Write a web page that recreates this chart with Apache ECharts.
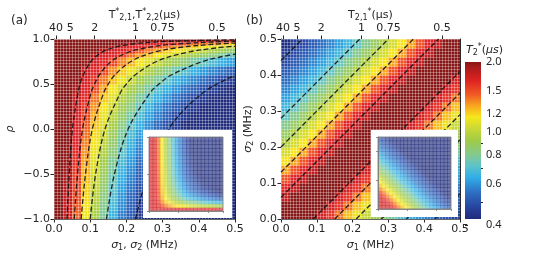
<!DOCTYPE html>
<html>
<head>
<meta charset="utf-8">
<script src="https://cdn.jsdelivr.net/npm/echarts@6/dist/echarts.min.js"></script>
<style>html,body{margin:0;padding:0;background:#fff}#chart{width:540px;height:259px}</style>
</head>
<body>
<div id="chart"></div>
<script>
// ---- data ----
// cell edges: sigma (MHz) and correlation rho
const sigmaEdges = [0, 0.025, 0.05, 0.075, 0.1, 0.125, 0.15, 0.175, 0.2, 0.225, 0.25, 0.275, 0.3, 0.325, 0.35, 0.375, 0.4, 0.425, 0.45, 0.475, 0.5];
const rhoEdges = [-1, -0.9, -0.8, -0.7, -0.6, -0.5, -0.4, -0.3, -0.2, -0.1, 0, 0.1, 0.2, 0.3, 0.4, 0.5, 0.6, 0.7, 0.8, 0.85, 0.9, 0.93, 0.96, 0.98, 1];
const insetRhoEdges = [-1, -0.9, -0.8, -0.7, -0.6, -0.5, -0.4, -0.3, -0.2, -0.1, 0, 0.1, 0.2, 0.3, 0.4, 0.5, 0.6, 0.7, 0.8, 0.9, 1];

// T2* (us) for panel (a), rows from rho = -1 (bottom) upwards
const t2A = [
  [4, 2.86, 1.72, 1.23, 0.96, 0.78, 0.66, 0.57, 0.51, 0.45, 0.41, 0.37, 0.34, 0.32, 0.30, 0.28, 0.26, 0.25, 0.23, 0.22],
  [4, 2.94, 1.76, 1.26, 0.98, 0.80, 0.68, 0.59, 0.52, 0.46, 0.42, 0.38, 0.35, 0.33, 0.30, 0.28, 0.27, 0.25, 0.24, 0.23],
  [4, 3.02, 1.81, 1.30, 1.01, 0.82, 0.70, 0.60, 0.53, 0.48, 0.43, 0.39, 0.36, 0.34, 0.31, 0.29, 0.27, 0.26, 0.25, 0.23],
  [4, 3.11, 1.87, 1.33, 1.04, 0.85, 0.72, 0.62, 0.55, 0.49, 0.44, 0.41, 0.37, 0.35, 0.32, 0.30, 0.28, 0.27, 0.25, 0.24],
  [4, 3.21, 1.93, 1.38, 1.07, 0.88, 0.74, 0.64, 0.57, 0.51, 0.46, 0.42, 0.39, 0.36, 0.33, 0.31, 0.29, 0.28, 0.26, 0.25],
  [4, 3.32, 1.99, 1.42, 1.11, 0.91, 0.77, 0.66, 0.59, 0.52, 0.47, 0.43, 0.40, 0.37, 0.34, 0.32, 0.30, 0.28, 0.27, 0.26],
  [4, 3.44, 2.07, 1.48, 1.15, 0.94, 0.79, 0.69, 0.61, 0.54, 0.49, 0.45, 0.41, 0.38, 0.36, 0.33, 0.31, 0.30, 0.28, 0.26],
  [4, 3.58, 2.15, 1.53, 1.19, 0.98, 0.83, 0.72, 0.63, 0.57, 0.51, 0.47, 0.43, 0.40, 0.37, 0.35, 0.33, 0.31, 0.29, 0.28],
  [4, 3.73, 2.24, 1.60, 1.24, 1.02, 0.86, 0.75, 0.66, 0.59, 0.53, 0.49, 0.45, 0.41, 0.39, 0.36, 0.34, 0.32, 0.30, 0.29],
  [4, 3.90, 2.34, 1.67, 1.30, 1.06, 0.90, 0.78, 0.69, 0.62, 0.56, 0.51, 0.47, 0.43, 0.40, 0.38, 0.35, 0.33, 0.32, 0.30],
  [4, 4, 2.46, 1.76, 1.37, 1.12, 0.95, 0.82, 0.72, 0.65, 0.59, 0.53, 0.49, 0.46, 0.42, 0.40, 0.37, 0.35, 0.33, 0.32],
  [4, 4, 2.60, 1.86, 1.45, 1.18, 1.00, 0.87, 0.77, 0.69, 0.62, 0.57, 0.52, 0.48, 0.45, 0.42, 0.39, 0.37, 0.35, 0.33],
  [4, 4, 2.77, 1.98, 1.54, 1.26, 1.07, 0.92, 0.82, 0.73, 0.66, 0.60, 0.55, 0.51, 0.48, 0.45, 0.42, 0.40, 0.37, 0.36],
  [4, 4, 2.98, 2.13, 1.65, 1.35, 1.15, 0.99, 0.88, 0.78, 0.71, 0.65, 0.60, 0.55, 0.51, 0.48, 0.45, 0.43, 0.40, 0.38],
  [4, 4, 3.24, 2.31, 1.80, 1.47, 1.24, 1.08, 0.95, 0.85, 0.77, 0.70, 0.65, 0.60, 0.56, 0.52, 0.49, 0.46, 0.44, 0.41],
  [4, 4, 3.58, 2.56, 1.99, 1.63, 1.38, 1.19, 1.05, 0.94, 0.85, 0.78, 0.72, 0.66, 0.62, 0.58, 0.54, 0.51, 0.48, 0.46],
  [4, 4, 4, 2.90, 2.25, 1.84, 1.56, 1.35, 1.19, 1.07, 0.97, 0.88, 0.81, 0.75, 0.70, 0.65, 0.61, 0.58, 0.55, 0.52],
  [4, 4, 4, 3.43, 2.67, 2.18, 1.85, 1.60, 1.41, 1.26, 1.14, 1.04, 0.96, 0.89, 0.83, 0.77, 0.73, 0.69, 0.65, 0.62],
  [4, 4, 4, 4, 3.19, 2.61, 2.21, 1.91, 1.69, 1.51, 1.37, 1.25, 1.15, 1.06, 0.99, 0.93, 0.87, 0.82, 0.78, 0.74],
  [4, 4, 4, 4, 3.77, 3.09, 2.61, 2.26, 2.00, 1.79, 1.62, 1.48, 1.36, 1.26, 1.17, 1.10, 1.03, 0.97, 0.92, 0.87],
  [4, 4, 4, 4, 4, 3.74, 3.17, 2.74, 2.42, 2.17, 1.96, 1.79, 1.65, 1.52, 1.42, 1.33, 1.25, 1.18, 1.11, 1.06],
  [4, 4, 4, 4, 4, 4, 3.94, 3.41, 3.01, 2.69, 2.44, 2.22, 2.05, 1.90, 1.76, 1.65, 1.55, 1.46, 1.38, 1.31],
  [4, 4, 4, 4, 4, 4, 4, 4, 4, 3.65, 3.30, 3.01, 2.77, 2.57, 2.39, 2.24, 2.10, 1.98, 1.87, 1.78],
  [4, 4, 4, 4, 4, 4, 4, 4, 4, 4, 4, 4, 4, 4, 4, 3.87, 3.64, 3.43, 3.24, 3.08]
];

// T2,1* (us) for panel (b), rows from sigma2 = 0 (bottom) upwards, columns sigma1 = 0..0.5
const t2B = [
  [4, 4, 4, 3.91, 2.69, 2.05, 1.65, 1.39, 1.19, 1.05, 0.93, 0.84, 0.77, 0.70, 0.65, 0.61, 0.57, 0.53, 0.50, 0.47],
  [4, 4, 4, 4, 3.91, 2.69, 2.05, 1.65, 1.39, 1.19, 1.05, 0.93, 0.84, 0.77, 0.70, 0.65, 0.61, 0.57, 0.53, 0.50],
  [3.07, 4, 4, 4, 4, 3.91, 2.69, 2.05, 1.65, 1.39, 1.19, 1.05, 0.93, 0.84, 0.77, 0.70, 0.65, 0.61, 0.57, 0.53],
  [2.26, 3.07, 4, 4, 4, 4, 3.91, 2.69, 2.05, 1.65, 1.39, 1.19, 1.05, 0.93, 0.84, 0.77, 0.70, 0.65, 0.61, 0.57],
  [1.79, 2.26, 3.07, 4, 4, 4, 4, 3.91, 2.69, 2.05, 1.65, 1.39, 1.19, 1.05, 0.93, 0.84, 0.77, 0.70, 0.65, 0.61],
  [1.48, 1.79, 2.26, 3.07, 4, 4, 4, 4, 3.91, 2.69, 2.05, 1.65, 1.39, 1.19, 1.05, 0.93, 0.84, 0.77, 0.70, 0.65],
  [1.26, 1.48, 1.79, 2.26, 3.07, 4, 4, 4, 4, 3.91, 2.69, 2.05, 1.65, 1.39, 1.19, 1.05, 0.93, 0.84, 0.77, 0.70],
  [1.10, 1.26, 1.48, 1.79, 2.26, 3.07, 4, 4, 4, 4, 3.91, 2.69, 2.05, 1.65, 1.39, 1.19, 1.05, 0.93, 0.84, 0.77],
  [0.98, 1.10, 1.26, 1.48, 1.79, 2.26, 3.07, 4, 4, 4, 4, 3.91, 2.69, 2.05, 1.65, 1.39, 1.19, 1.05, 0.93, 0.84],
  [0.88, 0.98, 1.10, 1.26, 1.48, 1.79, 2.26, 3.07, 4, 4, 4, 4, 3.91, 2.69, 2.05, 1.65, 1.39, 1.19, 1.05, 0.93],
  [0.80, 0.88, 0.98, 1.10, 1.26, 1.48, 1.79, 2.26, 3.07, 4, 4, 4, 4, 3.91, 2.69, 2.05, 1.65, 1.39, 1.19, 1.05],
  [0.73, 0.80, 0.88, 0.98, 1.10, 1.26, 1.48, 1.79, 2.26, 3.07, 4, 4, 4, 4, 3.91, 2.69, 2.05, 1.65, 1.39, 1.19],
  [0.67, 0.73, 0.80, 0.88, 0.98, 1.10, 1.26, 1.48, 1.79, 2.26, 3.07, 4, 4, 4, 4, 3.91, 2.69, 2.05, 1.65, 1.39],
  [0.62, 0.67, 0.73, 0.80, 0.88, 0.98, 1.10, 1.26, 1.48, 1.79, 2.26, 3.07, 4, 4, 4, 4, 3.91, 2.69, 2.05, 1.65],
  [0.58, 0.62, 0.67, 0.73, 0.80, 0.88, 0.98, 1.10, 1.26, 1.48, 1.79, 2.26, 3.07, 4, 4, 4, 4, 3.91, 2.69, 2.05],
  [0.54, 0.58, 0.62, 0.67, 0.73, 0.80, 0.88, 0.98, 1.10, 1.26, 1.48, 1.79, 2.26, 3.07, 4, 4, 4, 4, 3.91, 2.69],
  [0.51, 0.54, 0.58, 0.62, 0.67, 0.73, 0.80, 0.88, 0.98, 1.10, 1.26, 1.48, 1.79, 2.26, 3.07, 4, 4, 4, 4, 3.91],
  [0.48, 0.51, 0.54, 0.58, 0.62, 0.67, 0.73, 0.80, 0.88, 0.98, 1.10, 1.26, 1.48, 1.79, 2.26, 3.07, 4, 4, 4, 4],
  [0.46, 0.48, 0.51, 0.54, 0.58, 0.62, 0.67, 0.73, 0.80, 0.88, 0.98, 1.10, 1.26, 1.48, 1.79, 2.26, 3.07, 4, 4, 4],
  [0.43, 0.46, 0.48, 0.51, 0.54, 0.58, 0.62, 0.67, 0.73, 0.80, 0.88, 0.98, 1.10, 1.26, 1.48, 1.79, 2.26, 3.07, 4, 4]
];

// inset of (a), rows from rho = -1 upwards
const insetA = [
  [2.6, 2.6, 2.6, 2.6, 2.6, 2.6, 2.6, 2.6, 2.6, 2.6, 2.58, 2.55, 2.52, 2.50, 2.47, 2.46, 2.44, 2.43, 2.41, 2.40],
  [2.6, 2.6, 2.38, 1.91, 1.65, 1.48, 1.36, 1.28, 1.22, 1.16, 1.12, 1.09, 1.06, 1.04, 1.01, 1.00, 0.98, 0.97, 0.95, 0.94],
  [2.6, 2.6, 2.09, 1.62, 1.36, 1.19, 1.07, 0.99, 0.93, 0.87, 0.83, 0.80, 0.77, 0.75, 0.72, 0.71, 0.69, 0.68, 0.66, 0.65],
  [2.6, 2.6, 1.96, 1.49, 1.23, 1.06, 0.94, 0.86, 0.80, 0.74, 0.70, 0.67, 0.64, 0.62, 0.59, 0.58, 0.56, 0.55, 0.53, 0.52],
  [2.6, 2.6, 1.89, 1.42, 1.16, 0.99, 0.87, 0.79, 0.73, 0.67, 0.63, 0.60, 0.57, 0.55, 0.52, 0.51, 0.49, 0.48, 0.46, 0.45],
  [2.6, 2.6, 1.85, 1.38, 1.12, 0.95, 0.83, 0.75, 0.69, 0.63, 0.59, 0.56, 0.53, 0.51, 0.48, 0.47, 0.45, 0.44, 0.42, 0.41],
  [2.6, 2.6, 1.82, 1.35, 1.09, 0.92, 0.80, 0.72, 0.66, 0.60, 0.56, 0.53, 0.50, 0.48, 0.45, 0.44, 0.42, 0.41, 0.39, 0.38],
  [2.6, 2.6, 1.80, 1.33, 1.07, 0.90, 0.78, 0.70, 0.64, 0.58, 0.54, 0.51, 0.48, 0.46, 0.43, 0.42, 0.40, 0.39, 0.37, 0.36],
  [2.6, 2.6, 1.78, 1.31, 1.05, 0.88, 0.76, 0.68, 0.62, 0.56, 0.52, 0.49, 0.46, 0.44, 0.41, 0.40, 0.38, 0.37, 0.35, 0.34],
  [2.6, 2.6, 1.77, 1.30, 1.04, 0.87, 0.75, 0.67, 0.61, 0.55, 0.51, 0.48, 0.45, 0.43, 0.40, 0.39, 0.37, 0.36, 0.34, 0.33],
  [2.6, 2.6, 1.75, 1.28, 1.02, 0.85, 0.73, 0.65, 0.59, 0.53, 0.49, 0.46, 0.43, 0.41, 0.38, 0.37, 0.35, 0.34, 0.32, 0.31],
  [2.6, 2.6, 1.75, 1.28, 1.02, 0.85, 0.73, 0.65, 0.59, 0.53, 0.49, 0.46, 0.43, 0.41, 0.38, 0.37, 0.35, 0.34, 0.32, 0.31],
  [2.6, 2.6, 1.74, 1.27, 1.01, 0.84, 0.72, 0.64, 0.58, 0.52, 0.48, 0.45, 0.42, 0.40, 0.37, 0.36, 0.34, 0.33, 0.31, 0.30],
  [2.6, 2.6, 1.73, 1.26, 1.00, 0.83, 0.71, 0.63, 0.57, 0.51, 0.47, 0.44, 0.41, 0.39, 0.36, 0.35, 0.33, 0.32, 0.30, 0.29],
  [2.6, 2.6, 1.73, 1.26, 1.00, 0.83, 0.71, 0.63, 0.57, 0.51, 0.47, 0.44, 0.41, 0.39, 0.36, 0.35, 0.33, 0.32, 0.30, 0.29],
  [2.6, 2.6, 1.72, 1.25, 0.99, 0.82, 0.70, 0.62, 0.56, 0.50, 0.46, 0.43, 0.40, 0.38, 0.35, 0.34, 0.32, 0.31, 0.29, 0.28],
  [2.6, 2.6, 1.72, 1.25, 0.99, 0.82, 0.70, 0.62, 0.56, 0.50, 0.46, 0.43, 0.40, 0.38, 0.35, 0.34, 0.32, 0.31, 0.29, 0.28],
  [2.6, 2.6, 1.71, 1.24, 0.98, 0.81, 0.69, 0.61, 0.55, 0.49, 0.45, 0.42, 0.39, 0.37, 0.34, 0.33, 0.31, 0.30, 0.28, 0.27],
  [2.6, 2.6, 1.71, 1.24, 0.98, 0.81, 0.69, 0.61, 0.55, 0.49, 0.45, 0.42, 0.39, 0.37, 0.34, 0.33, 0.31, 0.30, 0.28, 0.27],
  [2.6, 2.6, 1.71, 1.24, 0.98, 0.81, 0.69, 0.61, 0.55, 0.49, 0.45, 0.42, 0.39, 0.37, 0.34, 0.33, 0.31, 0.30, 0.28, 0.27]
];

// inset of (b), rows from sigma2 = 0 upwards
const insetB = [
  [2.8, 2.8, 2.8, 2.5, 2.0, 1.67, 1.43, 1.25, 1.11, 1.0, 0.91, 0.83, 0.77, 0.71, 0.67, 0.63, 0.59, 0.56, 0.53, 0.5],
  [2.8, 2.8, 2.5, 2.0, 1.67, 1.43, 1.25, 1.11, 1.0, 0.91, 0.83, 0.77, 0.71, 0.67, 0.63, 0.59, 0.56, 0.53, 0.5, 0.48],
  [2.8, 2.5, 2.0, 1.67, 1.43, 1.25, 1.11, 1.0, 0.91, 0.83, 0.77, 0.71, 0.67, 0.63, 0.59, 0.56, 0.53, 0.5, 0.48, 0.45],
  [2.5, 2.0, 1.67, 1.43, 1.25, 1.11, 1.0, 0.91, 0.83, 0.77, 0.71, 0.67, 0.63, 0.59, 0.56, 0.53, 0.5, 0.48, 0.45, 0.43],
  [2.0, 1.67, 1.43, 1.25, 1.11, 1.0, 0.91, 0.83, 0.77, 0.71, 0.67, 0.63, 0.59, 0.56, 0.53, 0.5, 0.48, 0.45, 0.43, 0.42],
  [1.67, 1.43, 1.25, 1.11, 1.0, 0.91, 0.83, 0.77, 0.71, 0.67, 0.63, 0.59, 0.56, 0.53, 0.5, 0.48, 0.45, 0.43, 0.42, 0.4],
  [1.43, 1.25, 1.11, 1.0, 0.91, 0.83, 0.77, 0.71, 0.67, 0.63, 0.59, 0.56, 0.53, 0.5, 0.48, 0.45, 0.43, 0.42, 0.4, 0.38],
  [1.25, 1.11, 1.0, 0.91, 0.83, 0.77, 0.71, 0.67, 0.63, 0.59, 0.56, 0.53, 0.5, 0.48, 0.45, 0.43, 0.42, 0.4, 0.38, 0.37],
  [1.11, 1.0, 0.91, 0.83, 0.77, 0.71, 0.67, 0.63, 0.59, 0.56, 0.53, 0.5, 0.48, 0.45, 0.43, 0.42, 0.4, 0.38, 0.37, 0.36],
  [1.0, 0.91, 0.83, 0.77, 0.71, 0.67, 0.63, 0.59, 0.56, 0.53, 0.5, 0.48, 0.45, 0.43, 0.42, 0.4, 0.38, 0.37, 0.36, 0.34],
  [0.91, 0.83, 0.77, 0.71, 0.67, 0.63, 0.59, 0.56, 0.53, 0.5, 0.48, 0.45, 0.43, 0.42, 0.4, 0.38, 0.37, 0.36, 0.34, 0.33],
  [0.83, 0.77, 0.71, 0.67, 0.63, 0.59, 0.56, 0.53, 0.5, 0.48, 0.45, 0.43, 0.42, 0.4, 0.38, 0.37, 0.36, 0.34, 0.33, 0.32],
  [0.77, 0.71, 0.67, 0.63, 0.59, 0.56, 0.53, 0.5, 0.48, 0.45, 0.43, 0.42, 0.4, 0.38, 0.37, 0.36, 0.34, 0.33, 0.32, 0.31],
  [0.71, 0.67, 0.63, 0.59, 0.56, 0.53, 0.5, 0.48, 0.45, 0.43, 0.42, 0.4, 0.38, 0.37, 0.36, 0.34, 0.33, 0.32, 0.31, 0.3],
  [0.67, 0.63, 0.59, 0.56, 0.53, 0.5, 0.48, 0.45, 0.43, 0.42, 0.4, 0.38, 0.37, 0.36, 0.34, 0.33, 0.32, 0.31, 0.3, 0.29],
  [0.63, 0.59, 0.56, 0.53, 0.5, 0.48, 0.45, 0.43, 0.42, 0.4, 0.38, 0.37, 0.36, 0.34, 0.33, 0.32, 0.31, 0.3, 0.29, 0.28],
  [0.59, 0.56, 0.53, 0.5, 0.48, 0.45, 0.43, 0.42, 0.4, 0.38, 0.37, 0.36, 0.34, 0.33, 0.32, 0.31, 0.3, 0.29, 0.28, 0.28],
  [0.56, 0.53, 0.5, 0.48, 0.45, 0.43, 0.42, 0.4, 0.38, 0.37, 0.36, 0.34, 0.33, 0.32, 0.31, 0.3, 0.29, 0.28, 0.28, 0.27],
  [0.53, 0.5, 0.48, 0.45, 0.43, 0.42, 0.4, 0.38, 0.37, 0.36, 0.34, 0.33, 0.32, 0.31, 0.3, 0.29, 0.28, 0.28, 0.27, 0.26],
  [0.5, 0.48, 0.45, 0.43, 0.42, 0.4, 0.38, 0.37, 0.36, 0.34, 0.33, 0.32, 0.31, 0.3, 0.29, 0.28, 0.28, 0.27, 0.26, 0.26]
];

// dashed contour lines, [sigma, rho] points
const contoursA = [
  [[0.036, -1], [0.042, -0.5], [0.051, 0], [0.066, 0.4], [0.072, 0.5], [0.081, 0.6], [0.102, 0.75], [0.131, 0.85], [0.161, 0.9], [0.208, 0.94], [0.294, 0.97], [0.416, 0.985], [0.5, 0.99]],
  [[0.056, -1], [0.065, -0.5], [0.079, 0], [0.102, 0.4], [0.112, 0.5], [0.125, 0.6], [0.158, 0.75], [0.204, 0.85], [0.251, 0.9], [0.324, 0.94], [0.457, 0.97], [0.5, 0.975]],
  [[0.075, -1], [0.087, -0.5], [0.106, 0], [0.137, 0.4], [0.15, 0.5], [0.168, 0.6], [0.212, 0.75], [0.274, 0.85], [0.336, 0.9], [0.434, 0.94], [0.5, 0.955]],
  [[0.1, -1], [0.115, -0.5], [0.141, 0], [0.183, 0.4], [0.2, 0.5], [0.224, 0.6], [0.283, 0.75], [0.365, 0.85], [0.447, 0.9], [0.5, 0.92]],
  [[0.145, -1], [0.167, -0.5], [0.205, 0], [0.265, 0.4], [0.29, 0.5], [0.324, 0.6], [0.41, 0.75], [0.459, 0.8], [0.5, 0.832]],
  [[0.225, -1], [0.26, -0.5], [0.318, 0], [0.356, 0.2], [0.411, 0.4], [0.45, 0.5], [0.5, 0.595]]
];
// [sigma1, sigma2] end points of the straight contours in (b)
const contoursB = [
  [[0, 0.44], [0.06, 0.5]],
  [[0, 0.28], [0.22, 0.5]],
  [[0, 0.2], [0.3, 0.5]],
  [[0, 0.13], [0.37, 0.5]],
  [[0, 0.06], [0.44, 0.5]],
  [[0.09, 0], [0.5, 0.41]],
  [[0.15, 0], [0.5, 0.35]],
  [[0.21, 0], [0.5, 0.29]],
  [[0.28, 0], [0.5, 0.22]],
  [[0.35, 0], [0.5, 0.15]],
  [[0.43, 0], [0.5, 0.07]]
];

const topTicks = [40, 5, 2, 1, 0.75, 0.5]; // T2* labels on the top axes
const tSigma = 0.225;                       // T2* x sigma
const cbTicks = [0.4, 0.6, 0.8, 1.0, 1.2, 1.5, 2.0];
const cbMinor = [0.5, 0.7, 0.9];
const cbRange = [0.424, 2.0];

// ---- colours ----
// map used for the image cells (as seen in the panels)
const mapT = [0.424, 0.48, 0.56, 0.64, 0.72, 0.82, 0.95, 1.1, 1.25, 1.5, 1.8, 2.2, 3.0, 3.4, 4.0];
const mapC = ['#202b7b', '#2a4aa5', '#2f78c8', '#30aee6', '#5fc3c9', '#8ccb7e', '#a5cd45', '#d6dc2e',
  '#f6e71c', '#f8a020', '#f04e25', '#e2252a', '#c81f22', '#9a1a1a', '#861716'];
// stops of the colour bar itself
const barT = [0.424, 0.47, 0.55, 0.64, 0.72, 0.8, 0.92, 1.04, 1.16, 1.3, 1.45, 1.66, 1.9, 2.0];
const barC = ['#202b7b', '#27409a', '#2d6ec2', '#30aee6', '#5fc3c9', '#84c98f', '#9fcb47', '#cad934',
  '#f6e71c', '#f8a51f', '#f05a25', '#df2421', '#a81b1b', '#861716'];

const hexRgb = (h) => { const v = parseInt(h.slice(1), 16); return [(v >> 16) & 255, (v >> 8) & 255, v & 255]; };
const mapRgb = mapC.map(hexRgb);
const lg = Math.log10;

const t2Color = (t) => {
  const lt = lg(Math.min(Math.max(t, mapT[0]), mapT[mapT.length - 1]));
  for (let k = 1; k < mapT.length; k++) {
    const l1 = lg(mapT[k]);
    if (lt <= l1 + 1e-9) {
      const l0 = lg(mapT[k - 1]);
      const f = (lt - l0) / (l1 - l0);
      const a = mapRgb[k - 1], b = mapRgb[k];
      return `rgb(${Math.round(a[0] + (b[0] - a[0]) * f)},${Math.round(a[1] + (b[1] - a[1]) * f)},${Math.round(a[2] + (b[2] - a[2]) * f)})`;
    }
  }
  return mapC[mapC.length - 1];
};

const cellSeries = (xi, yi, xEdges, yEdges, vals, z, opacity) => {
  const data = [];
  vals.forEach((row, j) => row.forEach((v, i) => {
    data.push([xEdges[i], xEdges[i + 1], yEdges[j], yEdges[j + 1], v]);
  }));
  return {
    type: 'custom', xAxisIndex: xi, yAxisIndex: yi, z, silent: true, clip: true,
    encode: { x: [0, 1], y: [2, 3] },
    renderItem: (params, api) => {
      const a = api.coord([api.value(0), api.value(3)]);
      const b = api.coord([api.value(1), api.value(2)]);
      return {
        type: 'rect',
        shape: { x: a[0], y: a[1], width: b[0] - a[0] + 0.6, height: b[1] - a[1] + 0.6 },
        style: { fill: t2Color(api.value(4)), opacity }
      };
    },
    data
  };
};

const contourSeries = (xi, yi, lines, smooth) => lines.map((pts) => ({
  type: 'line', xAxisIndex: xi, yAxisIndex: yi, z: 5, silent: true, smooth,
  symbol: 'none', clip: true,
  lineStyle: { color: 'rgba(20,20,20,0.9)', width: 1.3, type: [5, 2.6] },
  data: pts
}));

// ---- styling helpers ----
const ink = '#262626';
const font = 'DejaVu Sans';
const rich = {
  i: { fontStyle: 'italic', fontFamily: font, fontSize: 11, color: ink },
  sub: { fontFamily: font, fontSize: 8, color: ink, padding: [6, 0, 0, 0] },
  sup: { fontFamily: font, fontSize: 8, color: ink, padding: [0, 0, 6, 0] }
};
const nameStyle = { fontFamily: font, fontSize: 11, color: ink, rich };
const tickFmt1 = (v) => v.toFixed(1).replace('-', '\u2212');

const mainX = (grid, name) => ({
  gridIndex: grid, type: 'value', min: 0, max: 0.5, interval: 0.1, position: 'bottom',
  name, nameLocation: 'middle', nameGap: 18, nameTextStyle: nameStyle,
  axisLine: { onZero: false, lineStyle: { color: ink, width: 1 } },
  axisTick: { length: 3.5, lineStyle: { color: ink } },
  axisLabel: { margin: 5, fontFamily: font, fontSize: 11, color: ink, formatter: tickFmt1 },
  splitLine: { show: false }
});
const topTickPos = topTicks.map((t) => tSigma / t);
const topX = (grid, name) => ({
  gridIndex: grid, type: 'value', min: 0, max: 0.5, position: 'top',
  name, nameLocation: 'middle', nameGap: 17, nameMoveOverlap: false, nameTextStyle: nameStyle,
  axisLine: { onZero: false, lineStyle: { color: ink, width: 1 } },
  axisTick: { length: 3.5, lineStyle: { color: ink }, customValues: topTickPos },
  axisLabel: {
    margin: 5, fontFamily: font, fontSize: 11, color: ink, customValues: topTickPos,
    formatter: (v) => {
      const k = topTickPos.findIndex((p) => Math.abs(p - v) < 1e-6);
      return k >= 0 ? String(topTicks[k]) : '';
    }
  },
  splitLine: { show: false }
});
const meshLine = { show: true, lineStyle: { color: 'rgba(255,255,255,0.3)', width: 1 } };
const meshX = (grid) => ({
  gridIndex: grid, type: 'value', min: 0, max: 0.5, interval: 0.5 / 60, position: 'bottom', z: 3,
  axisLine: { show: false }, axisTick: { show: false }, axisLabel: { show: false }, splitLine: meshLine
});
const meshY = (grid, min, max) => ({
  gridIndex: grid, type: 'value', min, max, interval: (max - min) / 60, position: 'right', z: 3,
  axisLine: { show: true, onZero: false, lineStyle: { color: ink, width: 1 } },
  axisTick: { show: false }, axisLabel: { show: false }, splitLine: meshLine
});
const insetAxis = (grid, min, max, interval, pos) => ({
  gridIndex: grid, type: 'value', min, max, interval, position: pos, z: 12,
  axisLine: { onZero: false, lineStyle: { color: '#777', width: 0.8 } },
  axisTick: { length: 2, lineStyle: { color: '#777', width: 0.8 } },
  axisLabel: { show: false }, splitLine: { show: false }
});

const chart = echarts.init(document.getElementById('chart'), null, { renderer: 'canvas' });

chart.setOption({
  animation: false,
  backgroundColor: '#fff',
  title: [
    { text: '(a)', left: 6, top: 10, textStyle: { fontFamily: font, fontSize: 12, fontWeight: 'normal', color: ink } },
    { text: '(b)', left: 241, top: 10, textStyle: { fontFamily: font, fontSize: 12, fontWeight: 'normal', color: ink } },
    {
      text: '{i|T}{sub|2}{sup|*}({i|\u03bcs})', left: 461, top: 38,
      textStyle: { fontFamily: font, fontSize: 11, fontWeight: 'normal', color: ink, rich }
    }
  ],
  graphic: [
    { type: 'rect', z: 10, silent: true, shape: { x: 143, y: 130, width: 89, height: 88 }, style: { fill: '#fff' } },
    { type: 'rect', z: 10, silent: true, shape: { x: 371, y: 130, width: 87, height: 87 }, style: { fill: '#fff' } }
  ],
  grid: [
    { left: 54, top: 39, width: 181, height: 180 },
    { left: 281, top: 39, width: 179, height: 180 },
    { left: 465, top: 62, width: 16, height: 163 },
    { left: 149, top: 137, width: 74, height: 74, show: true, z: 12, borderColor: '#777', borderWidth: 0.8, backgroundColor: 'transparent' },
    { left: 378, top: 137, width: 73, height: 72, show: true, z: 12, borderColor: '#777', borderWidth: 0.8, backgroundColor: 'transparent' }
  ],
  xAxis: [
    mainX(0, '{i|\u03c3}{sub|1}, {i|\u03c3}{sub|2} (MHz)'),
    topX(0, 'T{sup|*}{sub|2,1},T{sup|*}{sub|2,2}(\u03bcs)'),
    meshX(0),
    mainX(1, '{i|\u03c3}{sub|1} (MHz)'),
    topX(1, 'T{sub|2,1}{sup|*}(\u03bcs)'),
    meshX(1),
    { gridIndex: 2, type: 'value', min: 0, max: 1, show: false },
    insetAxis(3, 0, 0.5, 0.2, 'bottom'),
    insetAxis(4, 0, 0.5, 0.2, 'bottom')
  ],
  yAxis: [
    {
      gridIndex: 0, type: 'value', min: -1, max: 1, interval: 0.5, position: 'left',
      name: '{i|\u03c1}', nameLocation: 'middle', nameGap: 38, nameTextStyle: nameStyle,
      axisLine: { onZero: false, lineStyle: { color: ink, width: 1 } },
      axisTick: { length: 3.5, lineStyle: { color: ink } },
      axisLabel: { margin: 4, fontFamily: font, fontSize: 11, color: ink, formatter: tickFmt1 },
      splitLine: { show: false }
    },
    meshY(0, -1, 1),
    {
      gridIndex: 1, type: 'value', min: 0, max: 0.5, interval: 0.1, position: 'left',
      name: '{i|\u03c3}{sub|2} (MHz)', nameLocation: 'middle', nameGap: 26, nameTextStyle: nameStyle,
      axisLine: { onZero: false, lineStyle: { color: ink, width: 1 } },
      axisTick: { length: 3.5, lineStyle: { color: ink } },
      axisLabel: { margin: 4, fontFamily: font, fontSize: 11, color: ink, formatter: tickFmt1 },
      splitLine: { show: false }
    },
    meshY(1, 0, 0.5),
    {
      gridIndex: 2, type: 'value', min: lg(0.4), max: lg(2), position: 'right',
      axisLine: { show: false },
      axisTick: { length: 3, lineStyle: { color: ink }, customValues: cbTicks.map(lg) },
      axisLabel: {
        margin: 5, fontFamily: 'Noto Sans', fontSize: 11, color: ink, customValues: cbTicks.map(lg),
        formatter: (v) => Math.pow(10, v).toFixed(1)
      },
      splitLine: { show: false }
    },
    {
      gridIndex: 2, type: 'value', min: lg(0.4), max: lg(2), position: 'right',
      axisLine: { show: false },
      axisTick: { length: 2, lineStyle: { color: ink }, customValues: cbMinor.map(lg) },
      axisLabel: { show: false }, splitLine: { show: false }
    },
    insetAxis(3, -1, 1, 1, 'left'),
    insetAxis(4, 0, 0.5, 0.2, 'left')
  ],
  series: [
    cellSeries(0, 0, sigmaEdges, rhoEdges, t2A, 1, 1),
    cellSeries(3, 2, sigmaEdges, sigmaEdges, t2B, 1, 1),
    ...contourSeries(0, 0, contoursA, 0.35),
    ...contourSeries(3, 2, contoursB, false),
    {
      type: 'custom', xAxisIndex: 6, yAxisIndex: 4, silent: true, z: 1,
      encode: { x: [0, 1], y: [2, 3] },
      renderItem: (params, api) => {
        const a = api.coord([api.value(0), api.value(3)]);
        const b = api.coord([api.value(1), api.value(2)]);
        const span = lg(cbRange[1]) - lg(cbRange[0]);
        const stops = barT.map((t, k) => ({ offset: (lg(t) - lg(cbRange[0])) / span, color: barC[k] }));
        return {
          type: 'rect',
          shape: { x: a[0], y: a[1], width: b[0] - a[0], height: b[1] - a[1] },
          style: { fill: new echarts.graphic.LinearGradient(0, 1, 0, 0, stops) }
        };
      },
      data: [[0, 1, lg(cbRange[0]), lg(cbRange[1])]]
    },
    cellSeries(7, 6, sigmaEdges, insetRhoEdges, insetA, 11, 0.65),
    cellSeries(8, 7, sigmaEdges, sigmaEdges, insetB, 11, 0.65)
  ]
});
</script>
</body>
</html>
